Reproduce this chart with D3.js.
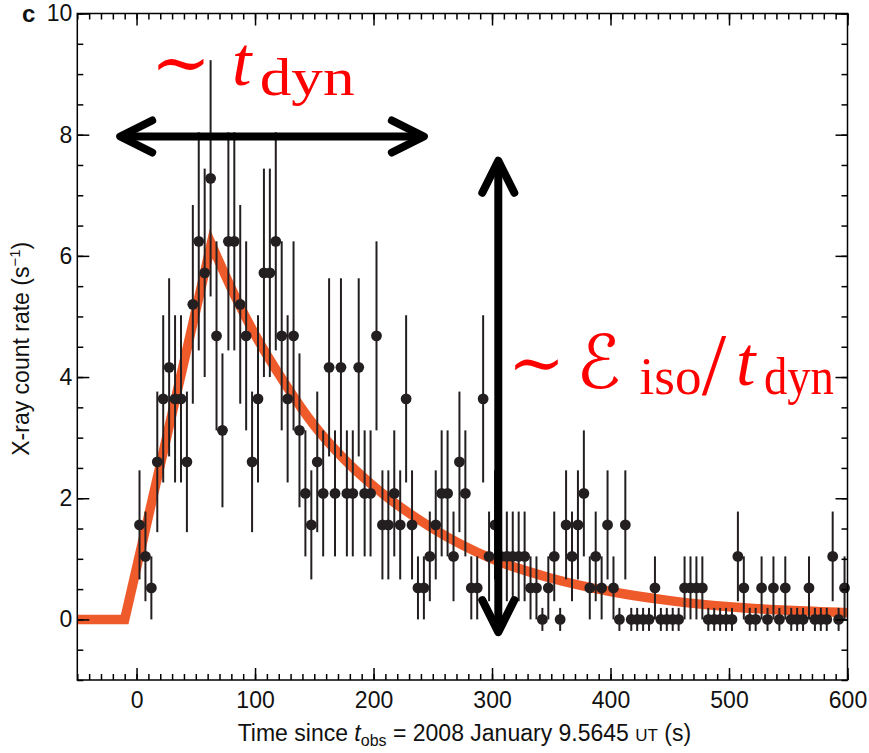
<!DOCTYPE html>
<html><head><meta charset="utf-8">
<script src="https://cdn.jsdelivr.net/npm/d3@7"></script>
<style>body{margin:0;background:#fff}svg{display:block}</style>
</head><body><svg id="chart" width="869" height="753"></svg>
<script>
// ---- data ----
const binTimes = [2.5,7.5,12.5,17.5,22.5,27.5,32.5,37.5,42.5,47.5,
 52.5,57.5,62.5,67.5,72.5,77.5,82.5,87.5,92.5,97.5,
 102.5,107.5,112.5,117.5,122.5,127.5,132.5,137.5,142.5,147.5,
 152.5,157.5,162.5,167.5,172.5,177.5,182.5,187.5,192.5,197.5,
 202.5,207.5,212.5,217.5,222.5,227.5,232.5,237.5,242.5,247.5,
 252.5,257.5,262.5,267.5,272.5,277.5,282.5,287.5,292.5,297.5,
 302.5,307.5,312.5,317.5,322.5,327.5,332.5,337.5,342.5,347.5,
 352.5,357.5,362.5,367.5,372.5,377.5,382.5,387.5,392.5,397.5,
 402.5,407.5,412.5,417.5,422.5,427.5,432.5,437.5,442.5,447.5,
 452.5,457.5,462.5,467.5,472.5,477.5,482.5,487.5,492.5,497.5,
 502.5,507.5,512.5,517.5,522.5,527.5,532.5,537.5,542.5,547.5,
 552.5,557.5,562.5,567.5,572.5,577.5,582.5,587.5,592.5,597.5];
const countRate = [1.56,1.04,0.52,2.6,3.64,4.16,3.64,3.64,2.6,5.2,
 6.24,5.72,7.28,4.68,3.12,6.24,6.24,5.2,4.68,2.6,
 3.64,5.72,5.72,6.24,4.68,3.64,4.68,3.12,2.08,1.56,
 2.6,2.08,4.16,2.08,4.16,2.08,2.08,4.16,2.08,2.08,
 4.68,1.56,1.56,2.08,1.56,3.64,1.56,0.52,0.52,1.04,
 1.56,2.08,2.08,1.04,2.6,2.08,0.52,0.52,3.64,1.04,
 1.56,1.04,1.04,1.04,1.04,1.04,0.52,0.52,0,0.52,
 1.04,0,1.56,1.04,1.56,2.08,0.52,1.04,0.52,1.56,
 0.52,0,1.56,0,0,0,0,0.52,0,0,
 0,0,0.52,0.52,0.52,0.52,0,0,0,0,
 0,1.04,0.52,0,0,0.52,0,0.52,0,0.52,
 0,0,0,0.52,0,0,0,1.04,0,0.52];
const rateError = [0.9,0.74,0.52,1.16,1.38,1.47,1.38,1.38,1.16,1.64,
 1.8,1.72,1.95,1.56,1.27,1.8,1.8,1.64,1.56,1.16,
 1.38,1.72,1.72,1.8,1.56,1.38,1.56,1.27,1.04,0.9,
 1.16,1.04,1.47,1.04,1.47,1.04,1.04,1.47,1.04,1.04,
 1.56,0.9,0.9,1.04,0.9,1.38,0.9,0.52,0.52,0.74,
 0.9,1.04,1.04,0.74,1.16,1.04,0.52,0.52,1.38,0.74,
 0.9,0.74,0.74,0.74,0.74,0.74,0.52,0.52,0.19,0.52,
 0.74,0.19,0.9,0.74,0.9,1.04,0.52,0.74,0.52,0.9,
 0.52,0.19,0.9,0.19,0.19,0.19,0.19,0.52,0.19,0.19,
 0.19,0.19,0.52,0.52,0.52,0.52,0.19,0.19,0.19,0.19,
 0.19,0.74,0.52,0.19,0.19,0.52,0.19,0.52,0.19,0.52,
 0.19,0.19,0.19,0.52,0.19,0.19,0.19,0.74,0.19,0.52];
// model light curve: linear rise then smooth decay
const riseTimes = [-50, -10, 63];
const riseRate  = [0, 0, 6.2];
const decayTimes = [63, 84, 100, 125, 150, 175, 200, 250, 300, 350, 400, 450, 500, 550, 600];
const decayRate  = [6.2, 5.3, 4.7, 3.9, 3.2, 2.65, 2.2, 1.5, 1.0, 0.68, 0.46, 0.31, 0.21, 0.15, 0.11];
const xTicks = [0, 100, 200, 300, 400, 500, 600];
const yTicks = [0, 2, 4, 6, 8, 10];

// ---- layout ----
const svg = d3.select("#chart");
const x = d3.scaleLinear().domain([-50, 600]).range([77.3, 847.5]);
const y = d3.scaleLinear().domain([-1, 10]).range([680, 13.5]);
const sans = "'Liberation Sans', Arial, Helvetica, sans-serif";
const ink = "#231f20";

// model curve
const lin = d3.line().x(d => x(d[0])).y(d => y(d[1]));
const smooth = d3.line().x(d => x(d[0])).y(d => y(d[1])).curve(d3.curveMonotoneX);
const riseD = lin(riseTimes.map((t, i) => [t, riseRate[i]]));
const decayD = smooth(decayTimes.map((t, i) => [t, decayRate[i]])).replace(/^M/, "L");
svg.append("path").attr("d", riseD + decayD)
  .attr("fill", "none").attr("stroke", "#ef5a2b").attr("stroke-width", 9.5)
  .attr("stroke-linejoin", "miter").attr("stroke-miterlimit", 10);

// error bars and points
const pts = binTimes.map((t, i) => ({t, v: countRate[i], e: rateError[i]}));
svg.append("g").selectAll("line").data(pts).join("line")
  .attr("x1", d => x(d.t)).attr("x2", d => x(d.t))
  .attr("y1", d => y(d.v - d.e)).attr("y2", d => y(d.v + d.e))
  .attr("stroke", ink).attr("stroke-width", 2);
svg.append("g").selectAll("circle").data(pts).join("circle")
  .attr("cx", d => x(d.t)).attr("cy", d => y(d.v)).attr("r", 5.4)
  .attr("fill", ink);

// axes
function styleAxis(g) {
  g.select(".domain").remove();
  g.selectAll(".tick line").attr("stroke", "#000").attr("stroke-width", 1.5);
  g.selectAll("text").attr("font-family", sans).attr("font-size", 23).attr("fill", "#111");
}
const xMinor = d3.range(-50, 601, 10);
const yMinor = d3.range(-1, 10.01, 0.5);
svg.append("g").attr("transform", `translate(0,${y(-1)})`)
  .call(d3.axisBottom(x).tickValues(xMinor).tickSize(-6).tickFormat("")).call(styleAxis);
svg.append("g").attr("transform", `translate(0,${y(-1)})`)
  .call(d3.axisBottom(x).tickValues(xTicks).tickSize(-12).tickPadding(12).tickFormat(d3.format("d"))).call(styleAxis);
svg.append("g").attr("transform", `translate(0,${y(10)})`)
  .call(d3.axisTop(x).tickValues(xMinor).tickSize(-6).tickFormat("")).call(styleAxis);
svg.append("g").attr("transform", `translate(0,${y(10)})`)
  .call(d3.axisTop(x).tickValues(xTicks).tickSize(-12).tickFormat("")).call(styleAxis);
svg.append("g").attr("transform", `translate(${x(-50)},0)`)
  .call(d3.axisLeft(y).tickValues(yMinor).tickSize(-6).tickFormat("")).call(styleAxis);
svg.append("g").attr("transform", `translate(${x(-50)},0)`)
  .call(d3.axisLeft(y).tickValues(yTicks).tickSize(-12).tickPadding(5).tickFormat(d3.format("d"))).call(styleAxis);
svg.append("g").attr("transform", `translate(${x(600)},0)`)
  .call(d3.axisRight(y).tickValues(yMinor).tickSize(-6).tickFormat("")).call(styleAxis);
svg.append("g").attr("transform", `translate(${x(600)},0)`)
  .call(d3.axisRight(y).tickValues(yTicks).tickSize(-12).tickFormat("")).call(styleAxis);
svg.append("rect").attr("x", x(-50)).attr("y", y(10))
  .attr("width", x(600) - x(-50)).attr("height", y(-1) - y(10))
  .attr("fill", "none").attr("stroke", "#000").attr("stroke-width", 1.5);

// axis titles
const xt = svg.append("text").attr("x", (x(-50) + x(600)) / 2 + 2).attr("y", 741)
  .attr("text-anchor", "middle").attr("font-family", sans).attr("font-size", 23).attr("fill", "#111");
xt.append("tspan").text("Time since ");
xt.append("tspan").attr("font-style", "italic").text("t");
xt.append("tspan").attr("font-size", 16).attr("dy", 5).text("obs");
xt.append("tspan").attr("dy", -5).text(" = 2008 January 9.5645 ");
xt.append("tspan").attr("font-size", 17).text("UT");
xt.append("tspan").text(" (s)");

const yt = svg.append("text").attr("transform", `translate(29,${(y(-1) + y(10)) / 2 + 2}) rotate(-90)`)
  .attr("text-anchor", "middle").attr("font-family", sans).attr("font-size", 23).attr("fill", "#111");
yt.append("tspan").text("X-ray count rate (s");
yt.append("tspan").attr("font-size", 15).attr("dy", -9).text("\u22121");
yt.append("tspan").attr("dy", 9).text(")");

svg.append("text").attr("x", 22).attr("y", 22).attr("font-family", sans)
  .attr("font-weight", "bold").attr("font-size", 24).attr("fill", "#111").text("c");

// ---- annotations (positions in data units) ----
const arrowH = {t0: -13.8, t1: 242.5, v: 7.97};
const arrowV = {t: 305.3, v0: 7.57, v1: -0.21};
const headLen = 32, headHalf = 16;
const ag = svg.append("g").attr("fill", "none").attr("stroke", "#000")
  .attr("stroke-width", 8).attr("stroke-linecap", "round").attr("stroke-linejoin", "round");
{
  const xa = x(arrowH.t0), xb = x(arrowH.t1), ya = y(arrowH.v);
  ag.append("path").attr("d", `M${xa + 3},${ya}L${xb - 3},${ya}`);
  ag.append("path").attr("d", `M${xa + headLen},${ya - headHalf}L${xa},${ya}L${xa + headLen},${ya + headHalf}`);
  ag.append("path").attr("d", `M${xb - headLen},${ya - headHalf}L${xb},${ya}L${xb - headLen},${ya + headHalf}`);
  const xv = x(arrowV.t), yA = y(arrowV.v0), yB = y(arrowV.v1);
  ag.append("path").attr("d", `M${xv},${yA + 3}L${xv},${yB - 3}`);
  ag.append("path").attr("d", `M${xv - headHalf},${yA + headLen}L${xv},${yA}L${xv + headHalf},${yA + headLen}`);
  ag.append("path").attr("d", `M${xv - headHalf},${yB - headLen}L${xv},${yB}L${xv + headHalf},${yB - headLen}`);
}

const serif = "'Liberation Serif', 'DejaVu Serif', serif";
const mathSym = "'DejaVu Serif', 'DejaVu Sans', serif";
const labelPieces = [
  {s: "\u223C", t: 12, v: 8.78, size: 72, font: mathSym},
  {s: "t", t: 80.5, v: 8.82, size: 70, font: serif, italic: true},
  {s: "dyn", t: 103.9, v: 8.66, size: 52, font: serif, len: 95},
  {s: "\u223C", t: 313.5, v: 3.85, size: 68, font: mathSym},
  {s: "\u2130", t: 371, v: 3.82, size: 74, font: mathSym, italic: true},
  {s: "iso", t: 424.5, v: 3.72, size: 52, font: serif, len: 62},
  {s: "/", t: 477, v: 3.72, size: 88, font: serif},
  {s: "t", t: 506, v: 3.87, size: 70, font: serif, italic: true},
  {s: "dyn", t: 529.5, v: 3.72, size: 52, font: serif, len: 70}
];
labelPieces.forEach(p => {
  const tx = svg.append("text").attr("x", x(p.t)).attr("y", y(p.v))
    .attr("font-family", p.font).attr("font-size", p.size).attr("fill", "#ff0000")
    .attr("font-style", p.italic ? "italic" : "normal").text(p.s);
  if (p.len) tx.attr("textLength", p.len).attr("lengthAdjust", "spacingAndGlyphs");
});
</script></body></html>
